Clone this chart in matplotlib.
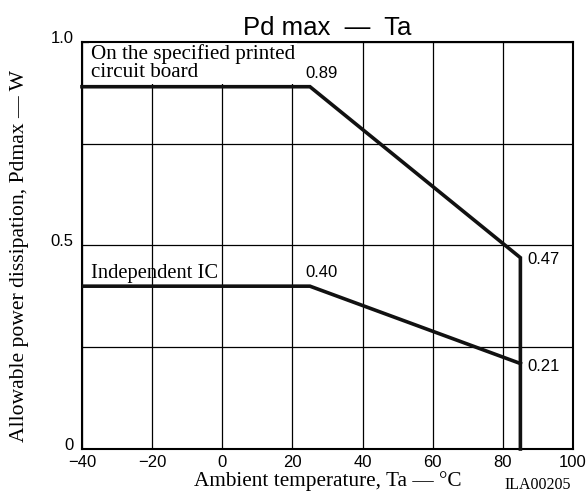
import matplotlib.pyplot as plt
import matplotlib.transforms as mtransforms
from matplotlib.ticker import MultipleLocator

# derating curves, Pd max vs Ta
ta_pcb = [-40, 25, 85, 85]
pd_pcb = [0.89, 0.89, 0.47, 0.0]
ta_ic = [-40, 25, 85]
pd_ic = [0.40, 0.40, 0.21]

xticks = [-40, -20, 0, 20, 40, 60, 80, 100]
yticks = [0, 0.5, 1.0]
ytick_labels = ["0", "0.5", "1.0"]

sans = ["Liberation Sans", "DejaVu Sans"]
serif = ["Liberation Serif", "DejaVu Serif"]

fig = plt.figure(figsize=(5.86, 4.97), dpi=100)
ax = fig.add_axes([0.1399, 0.0966, 0.8379, 0.819])

ax.set_xlim(-40, 100)
ax.set_ylim(0, 1.0)
ax.set_xticks(xticks)
ax.set_xticklabels(["\u2212" + str(-t) if t < 0 else str(t) for t in xticks], family=sans, fontsize=12)
ax.set_yticks(yticks)
ax.set_yticklabels(ytick_labels, family=sans, fontsize=12)
ax.yaxis.set_minor_locator(MultipleLocator(0.25))
ax.tick_params(which="both", length=0)
ax.tick_params(axis="x", pad=4)
ax.tick_params(axis="y", pad=6)
shift = mtransforms.ScaledTranslation(0, 5 / 100, fig.dpi_scale_trans)
for lab in ax.get_yticklabels():
    lab.set_transform(lab.get_transform() + shift)
ax.grid(True, which="both", color="black", linewidth=0.9)
for s in ax.spines.values():
    s.set_linewidth(1.5)

ax.plot(ta_pcb, pd_pcb, color="#111111", linewidth=2.6, solid_joinstyle="miter", clip_on=False, zorder=3)
ax.plot(ta_ic, pd_ic, color="#111111", linewidth=2.6, solid_joinstyle="miter", zorder=3)

ax.text(-37.4, 0.995, "On the specified printed\ncircuit board", family=serif, fontsize=15.2,
        va="top", ha="left", linespacing=0.95, zorder=2,
        bbox=dict(facecolor="white", edgecolor="none", boxstyle="square,pad=0.1"))
ax.text(-37.4, 0.42, "Independent IC", family=serif, fontsize=14.8, va="baseline", ha="left")

ax.text(23.6, pd_pcb[1] + 0.033, "%.2f" % pd_pcb[1], family=sans, fontsize=12, va="center")
ax.text(23.6, pd_ic[1] + 0.033, "%.2f" % pd_ic[1], family=sans, fontsize=12, va="center")
ax.text(86.9, pd_pcb[2] - 0.004, "%.2f" % pd_pcb[2], family=sans, fontsize=12, va="center")
ax.text(86.9, pd_ic[2] - 0.008, "%.2f" % pd_ic[2], family=sans, fontsize=12, va="center")

ax.set_title("Pd max  \u2014  Ta", family=sans, fontsize=18.5, pad=5)
ax.set_xlabel("Ambient temperature, Ta \u2014 \u00b0C", family=serif, fontsize=15.3, labelpad=1)
ax.set_ylabel("Allowable power dissipation, Pdmax \u2014 W", family=serif, fontsize=15.6)
ax.yaxis.set_label_coords(-0.108, 0.474)
fig.text(0.918, 0.016, "ILA00205", family=serif, fontsize=11.5, ha="center")

fig.savefig("out.png", dpi=100)
